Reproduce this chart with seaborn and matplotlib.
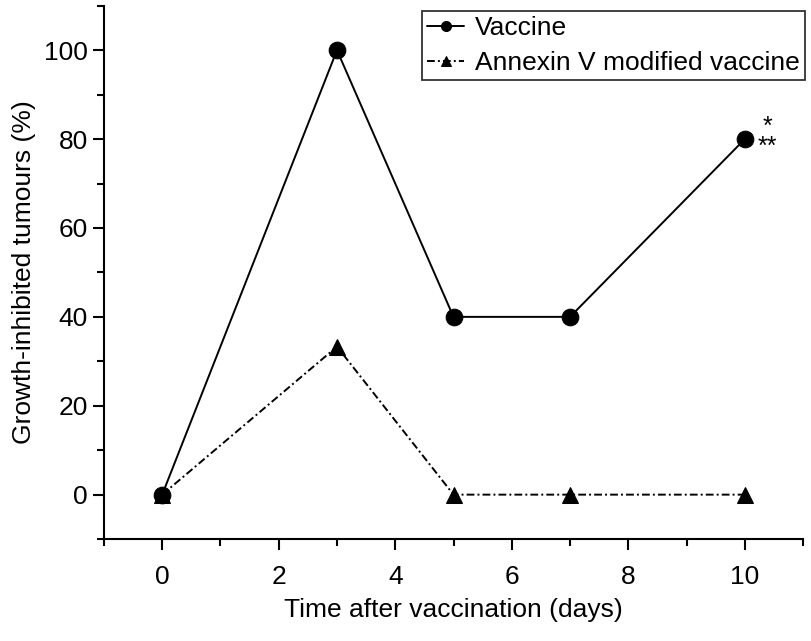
import matplotlib
matplotlib.use("Agg")
import matplotlib.pyplot as plt
import numpy as np
import pandas as pd
import seaborn as sns
from matplotlib.ticker import MultipleLocator

days = [0, 3, 5, 7, 10]
vaccine = [0, 100, 40, 40, 80]
annexin = [0, 33.3, 0, 0, 0]
series_names = ["Vaccine", "Annexin V modified vaccine"]

df = pd.DataFrame({
    "day": days * 2,
    "pct": vaccine + annexin,
    "group": [series_names[0]] * len(days) + [series_names[1]] * len(days),
})

sns.set_style("ticks", {"text.color": "black", "axes.labelcolor": "black",
                        "xtick.color": "black", "ytick.color": "black",
                        "axes.edgecolor": "black"})
plt.rcParams["font.family"] = ["Liberation Sans", "DejaVu Sans"]

fig = plt.figure(figsize=(8.12, 6.41), dpi=100)
ax = fig.add_axes([0.128, 0.159, 0.861, 0.832])

sns.lineplot(
    data=df, x="day", y="pct", hue="group", style="group",
    hue_order=series_names, style_order=series_names,
    palette=["black", "black"],
    dashes={series_names[0]: "", series_names[1]: (4, 1.6, 1, 1.6)},
    markers={series_names[0]: "o", series_names[1]: "^"},
    markersize=12, markeredgecolor="black", linewidth=1.4,
    ax=ax,
)

ax.set_xlim(-1, 11)
ax.set_ylim(-10, 110)
ax.xaxis.set_major_locator(MultipleLocator(2))
ax.xaxis.set_minor_locator(MultipleLocator(1))
ax.yaxis.set_major_locator(MultipleLocator(20))
ax.yaxis.set_minor_locator(MultipleLocator(10))
ax.tick_params(axis="both", which="major", labelsize=19, length=8, width=1.5, direction="out")
ax.tick_params(axis="both", which="minor", length=5, width=1.5, direction="out")
ax.tick_params(axis="x", which="major", pad=11)
for s in ["left", "bottom"]:
    ax.spines[s].set_linewidth(1.5)
sns.despine(ax=ax)

ax.set_xlabel("Time after vaccination (days)", fontsize=19, labelpad=6)
ax.set_ylabel("Growth-inhibited tumours (%)", fontsize=19, labelpad=6)

# significance marks next to day 10 vaccine point
ax.text(10.22, 80.5, "*\n**", fontsize=18, ha="left", va="center",
        multialignment="center", linespacing=0.8)

leg = ax.legend(
    loc="upper right", bbox_to_anchor=(1.01, 1.0), fontsize=19, frameon=True,
    fancybox=False, edgecolor="black", handlelength=1.4, handletextpad=0.4,
    borderpad=0.2, labelspacing=0.4, markerscale=0.6, borderaxespad=0.2,
)
leg.get_frame().set_linewidth(1.3)
leg.set_title(None)

fig.savefig("out.png", dpi=100)
